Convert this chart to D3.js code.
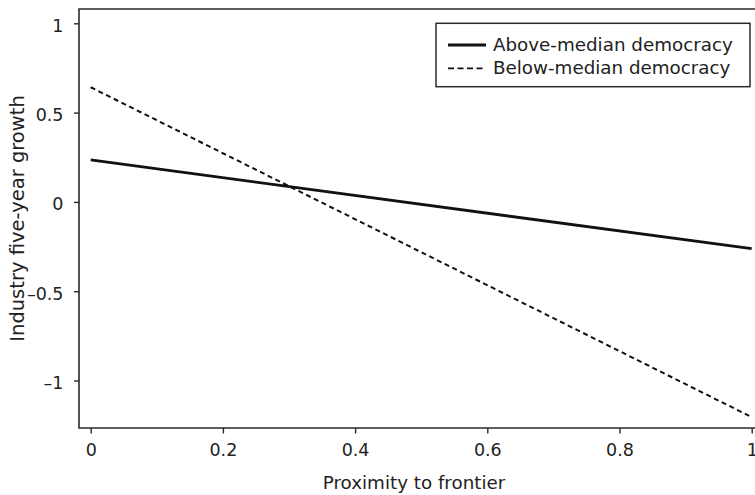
<!DOCTYPE html>
<html>
<head>
<meta charset="utf-8">
<script src="https://cdn.jsdelivr.net/npm/d3@7"></script>
<style>
  html, body { margin: 0; padding: 0; background: #fff; }
  svg { display: block; }
  text { font-family: "DejaVu Sans", sans-serif; fill: #222; }
</style>
</head>
<body>
<svg id="chart" width="755" height="495"></svg>
<script>
// ---- data ----
const xTicks = [0, 0.2, 0.4, 0.6, 0.8, 1];
const yTicks = [-1, -0.5, 0, 0.5, 1];
const seriesNames = ["Above-median democracy", "Below-median democracy"];
const xValues = [0, 1];
const aboveValues = [0.235, -0.262];
const belowValues = [0.642, -1.205];
const xTitle = "Proximity to frontier";
const yTitle = "Industry five-year growth";

// ---- layout ----
const svg = d3.select("#chart");
const x = d3.scaleLinear().domain([0, 1]).range([90.7, 751.7]);
const y = d3.scaleLinear().domain([-1, 1]).range([380.5, 23.3]);
const frame = { left: 79, top: 9, bottom: 428, right: 762 };
const axisColor = "#2a2a2a";
const fmt = d => String(d).replace("-", "\u2013");

// frame (left, top, bottom lines; right side lies beyond the picture)
svg.append("path")
  .attr("d", `M${frame.right},${frame.top}H${frame.left}V${frame.bottom}H${frame.right}`)
  .attr("fill", "none").attr("stroke", axisColor).attr("stroke-width", 1.6);

// x axis
const xAxis = svg.append("g")
  .attr("transform", `translate(0,${frame.bottom})`)
  .call(d3.axisBottom(x).tickValues(xTicks).tickFormat(fmt).tickSize(5.5).tickPadding(10).tickSizeOuter(0));
xAxis.select(".domain").remove();
xAxis.selectAll(".tick line").attr("stroke", axisColor).attr("stroke-width", 1.4);
xAxis.selectAll(".tick text").attr("font-size", 17.5).attr("fill", "#222")
  .attr("font-family", "DejaVu Sans, sans-serif");

// y axis
const yAxis = svg.append("g")
  .attr("transform", `translate(${frame.left},0)`)
  .call(d3.axisLeft(y).tickValues(yTicks).tickFormat(fmt).tickSize(5).tickPadding(10.5).tickSizeOuter(0));
yAxis.select(".domain").remove();
yAxis.selectAll(".tick line").attr("stroke", axisColor).attr("stroke-width", 1.4);
yAxis.selectAll(".tick text").attr("font-size", 17.5).attr("fill", "#222")
  .attr("dy", "0.45em").attr("font-family", "DejaVu Sans, sans-serif");

// axis titles
svg.append("text")
  .attr("x", 414).attr("y", 489)
  .attr("text-anchor", "middle").attr("font-size", 18.3)
  .text(xTitle);
svg.append("text")
  .attr("transform", `translate(24,${(frame.top + frame.bottom) / 2}) rotate(-90)`)
  .attr("text-anchor", "middle").attr("font-size", 19.5)
  .text(yTitle);

// series lines
const line = d3.line().x(d => x(d[0])).y(d => y(d[1]));
svg.append("path")
  .datum(xValues.map((v, i) => [v, aboveValues[i]]))
  .attr("d", line).attr("fill", "none")
  .attr("stroke", "#111").attr("stroke-width", 2.8);
svg.append("path")
  .datum(xValues.map((v, i) => [v, belowValues[i]]))
  .attr("d", line).attr("fill", "none")
  .attr("stroke", "#111").attr("stroke-width", 2)
  .attr("stroke-dasharray", "5,3.6");

// legend
const lg = svg.append("g");
lg.append("rect")
  .attr("x", 436).attr("y", 23.3).attr("width", 314).attr("height", 63.4)
  .attr("fill", "#fff").attr("stroke", axisColor).attr("stroke-width", 1.5);
const styles = [{ w: 2.8, dash: null }, { w: 1.8, dash: "6,3.5" }];
seriesNames.forEach((name, i) => {
  const yy = 45 + i * 23.3;
  lg.append("line")
    .attr("x1", 448).attr("x2", i === 0 ? 486 : 483)
    .attr("y1", yy).attr("y2", yy)
    .attr("stroke", "#111").attr("stroke-width", styles[i].w)
    .attr("stroke-dasharray", styles[i].dash);
  lg.append("text")
    .attr("x", 493).attr("y", yy + 5.5)
    .attr("font-size", 18.3)
    .text(name);
});
</script>
</body>
</html>
